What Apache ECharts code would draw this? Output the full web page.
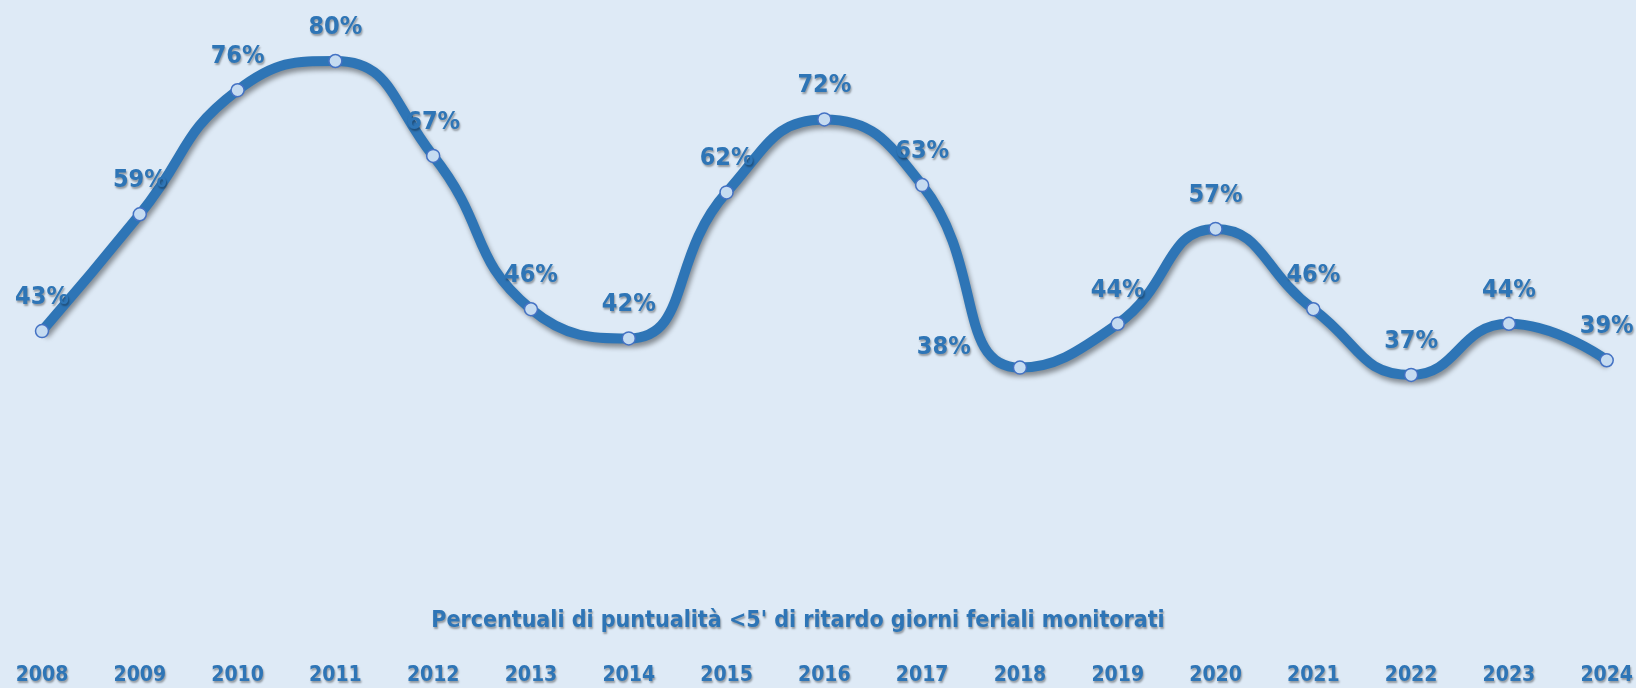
<!DOCTYPE html>
<html>
<head>
<meta charset="utf-8">
<script src="https://cdn.jsdelivr.net/npm/echarts@6/dist/echarts.min.js"></script>
<style>
html,body{margin:0;padding:0;background:#DEEAF6;}
#chart{width:1636px;height:688px;}
</style>
</head>
<body>
<div id="chart"></div>
<script>
// data
var years=["2008","2009","2010","2011","2012","2013","2014","2015","2016","2017","2018","2019","2020","2021","2022","2023","2024"];
var puntualita=[43,59,76,80,67,46,42,62,72,63,38,44,57,46,37,44,39];
var titolo="Percentuali di puntualità <5' di ritardo giorni feriali monitorati";

var blu="#2E75B6";
var font="DejaVu Sans Condensed";
var ombra={textShadowColor:"rgba(0,0,0,0.35)",textShadowOffsetX:1,textShadowOffsetY:2,textShadowBlur:2};

var punti=puntualita.map(function(v,i){
    var p={value:v};
    //2018 label sits on the left
    if(years[i]=="2018"){
        p.label={position:"left",distance:42,offset:[0,-20]};
    }
    return p;
});

var chart=echarts.init(document.getElementById("chart"));
chart.setOption({
    backgroundColor:"#DEEAF6",
    title:{
        text:titolo,left:793,top:605,textAlign:"center",
        textStyle:Object.assign({color:blu,fontFamily:font,fontWeight:"bold",fontSize:23},ombra)
    },
    grid:{left:42,right:29,top:61,bottom:43},
    xAxis:{
        type:"category",data:years,boundaryGap:false,
        axisLine:{show:false},axisTick:{show:false},splitLine:{show:false},
        axisLabel:Object.assign({color:blu,fontFamily:font,fontWeight:"bold",fontSize:21,margin:20},ombra)
    },
    yAxis:{type:"value",min:0,max:80,show:false},
    series:[{
        type:"line",data:punti,smooth:0.5,
        symbol:"circle",symbolSize:13,
        lineStyle:{color:blu,width:10,shadowColor:"rgba(0,0,0,0.4)",shadowBlur:5,shadowOffsetX:2,shadowOffsetY:4},
        itemStyle:{color:"#C5DBF1",borderColor:"#4472C4",borderWidth:1.5},
        label:Object.assign({show:true,position:"top",distance:14,formatter:"{c}%",color:blu,fontFamily:font,fontWeight:"bold",fontSize:25},ombra),
        z:3
    }]
});
</script>
</body>
</html>
